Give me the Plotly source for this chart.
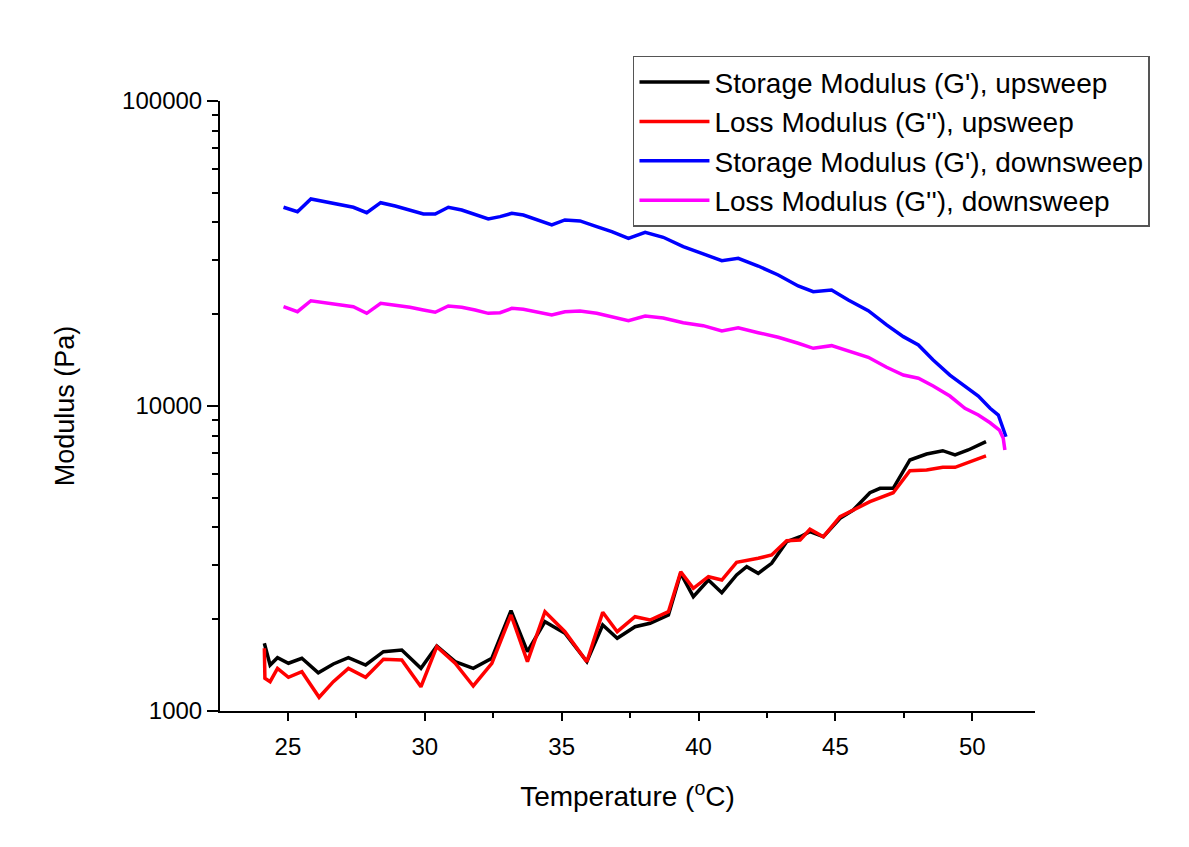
import plotly.graph_objects as go

# Upsweep: Storage modulus G' (black)
t_up_g1 = [24.14, 24.35, 24.62, 25.02, 25.51, 26.11, 26.66, 27.21, 27.84, 28.49, 29.16, 29.86,
           30.44, 31.11, 31.77, 32.45, 33.15, 33.75, 34.39, 35.12, 35.92, 36.50, 37.03, 37.68,
           38.23, 38.90, 39.35, 39.81, 40.36, 40.85, 41.39, 41.76, 42.18, 42.67, 43.22, 43.71,
           44.07, 44.56, 45.17, 45.65, 46.26, 46.63, 47.11, 47.72, 48.33, 48.92, 49.37, 49.85, 50.50]
g1_up = [1667, 1415, 1495, 1434, 1489, 1335, 1426, 1495, 1415, 1565, 1585, 1380,
         1634, 1451, 1380, 1489, 2132, 1565, 1963, 1798, 1451, 1914, 1731, 1890,
         1939, 2064, 2828, 2370, 2688, 2443, 2792, 2972, 2828, 3050, 3590, 3728,
         3871, 3728, 4283, 4560, 5195, 5373, 5373, 6653, 6961, 7136, 6909, 7174, 7638]

# Upsweep: Loss modulus G'' (red)
t_up_g2 = [24.14, 24.16, 24.35, 24.62, 25.02, 25.51, 26.14, 26.66, 27.21, 27.84, 28.49, 29.16,
           29.86, 30.44, 31.11, 31.77, 32.45, 33.15, 33.75, 34.39, 35.12, 35.92, 36.50, 37.03,
           37.68, 38.23, 38.90, 39.35, 39.81, 40.36, 40.85, 41.39, 42.18, 42.67, 43.22, 43.71,
           44.07, 44.56, 45.17, 45.65, 46.26, 47.11, 47.72, 48.33, 48.92, 49.37, 49.85, 50.50]
g2_up = [1605, 1280, 1248, 1380, 1290, 1345, 1109, 1248, 1380, 1290, 1477, 1470,
         1201, 1625, 1434, 1208, 1434, 2064, 1451, 2116, 1820, 1451, 2107, 1820,
         2038, 1988, 2116, 2862, 2525, 2756, 2688, 3073, 3168, 3248, 3618, 3637,
         3942, 3728, 4335, 4560, 4856, 5195, 6137, 6170, 6295, 6295, 6518, 6857]

# Downsweep: Storage modulus G' (blue)
t_down = [24.84, 25.35, 25.84, 26.36, 26.91, 27.39, 27.88, 28.39, 28.92, 29.46, 29.95, 30.38,
          30.86, 31.35, 31.84, 32.32, 32.75, 33.18, 33.60, 34.64, 35.12, 35.67, 36.28, 36.83,
          37.44, 38.05, 38.71, 39.44, 40.17, 40.85, 41.45, 42.18, 42.91, 43.64, 44.19, 44.86,
          45.47, 46.20, 46.87, 47.48, 48.03, 48.57, 49.18, 49.67, 50.22, 50.65, 50.95, 51.23]
g1_down = [44830, 43360, 47720, 46750, 45950, 44830, 43040, 46410, 45260, 43920, 42620, 42620,
           44830, 43920, 42520, 41040, 41760, 42840, 42290, 39220, 40730, 40430, 38720, 37290,
           35470, 37110, 35740, 33300, 31510, 29960, 30500, 28770, 26890, 24740, 23700, 24010,
           22260, 20530, 18440, 16880, 15850, 14150, 12630, 11720, 10780, 9830, 9340, 7930]

# Downsweep: Loss modulus G'' (magenta)
t_down_g2 = [24.84, 25.35, 25.84, 26.36, 26.91, 27.39, 27.88, 28.39, 28.92, 29.46, 29.95, 30.38,
             30.86, 31.35, 31.84, 32.32, 32.75, 33.18, 33.60, 34.64, 35.12, 35.67, 36.28, 36.83,
             37.44, 38.05, 38.71, 39.44, 40.17, 40.85, 41.45, 42.18, 42.91, 43.64, 44.19, 44.86,
             45.47, 46.20, 46.87, 47.48, 48.03, 48.57, 49.18, 49.73, 50.22, 50.65, 50.99, 51.13, 51.19]
g2_down = [21170, 20380, 22140, 21810, 21480, 21170, 20130, 21710, 21390, 21070, 20640, 20290,
           21280, 21070, 20640, 20130, 20220, 20900, 20750, 19880, 20380, 20490, 20130, 19630,
           19040, 19730, 19430, 18760, 18340, 17620, 18060, 17390, 16800, 16060, 15460, 15770,
           15180, 14440, 13400, 12630, 12330, 11630, 10780, 9830, 9340, 8810, 8340, 7840, 7170]

y_tickvals = [1000, 10000, 100000]
y_ticktext = ["1000", "10000", "100000"]
y_minor = [2000, 3000, 4000, 5000, 6000, 7000, 8000, 9000,
           20000, 30000, 40000, 50000, 60000, 70000, 80000, 90000]
x_tickvals = [25, 30, 35, 40, 45, 50]
x_minor = [27.5, 32.5, 37.5, 42.5, 47.5]

names = ["Storage Modulus (G'), upsweep", "Loss Modulus (G''), upsweep",
         "Storage Modulus (G'), downsweep", "Loss Modulus (G''), downsweep"]
colors = ["#000000", "#FF0000", "#0000FF", "#FF00FF"]

FONT = "Liberation Sans, Arial, sans-serif"

fig = go.Figure()
series = [(t_up_g1, g1_up), (t_up_g2, g2_up), (t_down, g1_down), (t_down_g2, g2_down)]
for (x, y), n, c in zip(series, names, colors):
    fig.add_trace(go.Scatter(x=x, y=y, mode="lines", name=n,
                             line=dict(color=c, width=3.5)))

fig.update_layout(
    width=1189, height=847,
    margin=dict(l=220, r=154, t=101, b=136),
    paper_bgcolor="white", plot_bgcolor="white",
    font=dict(family=FONT, color="black"),
    showlegend=True,
    legend=dict(x=0.5067, y=1.074, xanchor="left", yanchor="top",
                bordercolor="#555555", borderwidth=1.5, bgcolor="white",
                font=dict(family=FONT, size=28, color="black"),
                itemwidth=70, tracegroupgap=0),
    xaxis=dict(range=[22.52, 52.29], showline=True, linecolor="black", linewidth=2,
               showgrid=False, zeroline=False, ticks="outside", ticklen=8, tickwidth=2,
               tickcolor="black", tickvals=x_tickvals, ticklabelstandoff=5,
               tickfont=dict(family=FONT, size=24, color="black"),
               minor=dict(tickvals=x_minor, ticks="outside", ticklen=5, tickwidth=2,
                          tickcolor="black", showgrid=False),
               title=dict(text="Temperature (<sup>o</sup>C)", standoff=28,
                          font=dict(family=FONT, size=28, color="black")),
               automargin=False),
    yaxis=dict(type="log", range=[3, 5], showline=True, linecolor="black", linewidth=2,
               showgrid=False, zeroline=False, ticks="outside", ticklen=11, tickwidth=2,
               tickcolor="black", tickvals=y_tickvals, ticktext=y_ticktext,
               tickfont=dict(family=FONT, size=24, color="black"),
               minor=dict(tickvals=y_minor, ticks="outside", ticklen=6, tickwidth=2,
                          tickcolor="black", showgrid=False),
               title=dict(text="Modulus (Pa)", standoff=40,
                          font=dict(family=FONT, size=27, color="black")),
               automargin=False),
)

fig.write_html("out.html")
